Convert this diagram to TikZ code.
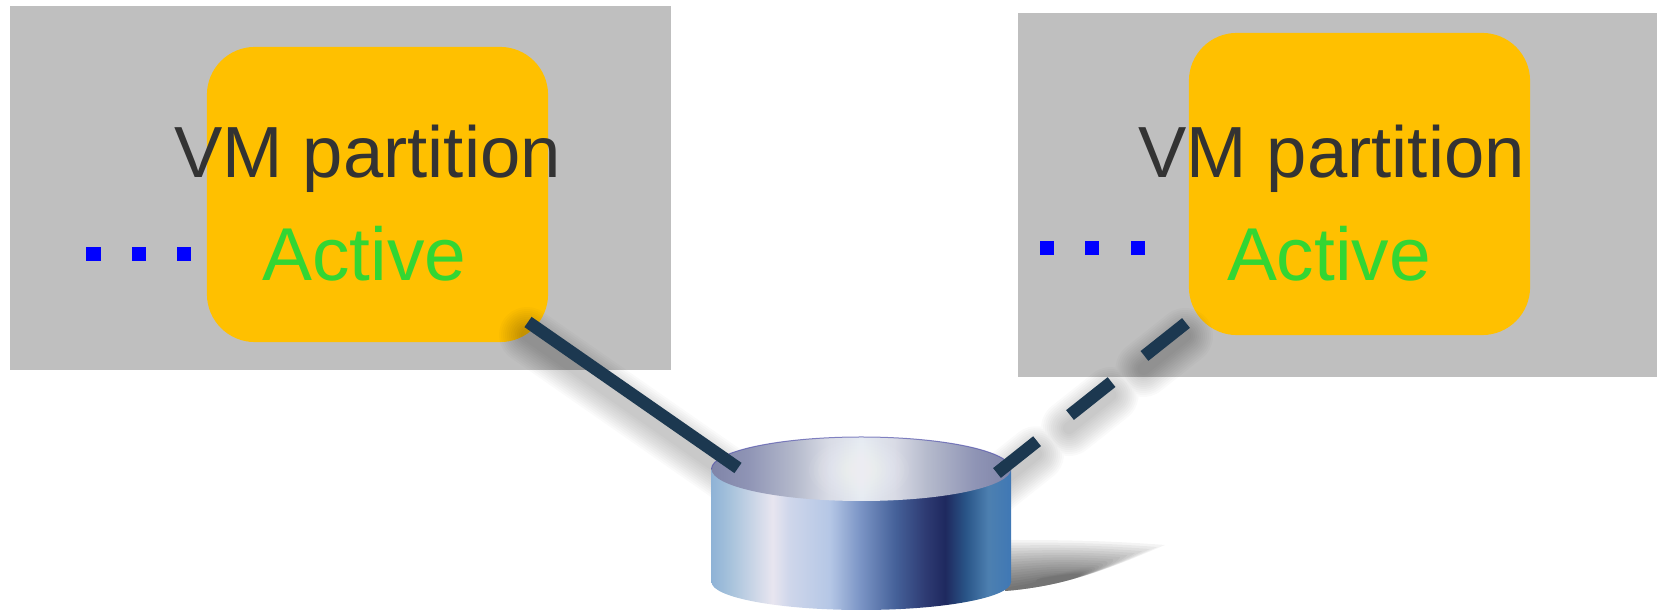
\documentclass[tikz,border=0pt]{standalone}
\usepackage{fontspec}
\setmainfont{Liberation Sans}
\usepackage{xcolor}
\usetikzlibrary{calc}
\definecolor{vmgray}{HTML}{BFBFBF}
\definecolor{vmgold}{HTML}{FFC000}
\definecolor{vmtext}{HTML}{333333}
\definecolor{vmgreen}{HTML}{33D633}
\definecolor{vmblue}{HTML}{0000FF}
\definecolor{vmline}{HTML}{1C3850}
\pgfdeclarehorizontalshading{diskside}{100bp}{
  rgb(0bp)=(.56,.70,.84); rgb(25bp)=(.56,.70,.84); rgb(28bp)=(.65,.76,.86); rgb(35.2bp)=(.91,.90,.94);
  rgb(38bp)=(.81,.84,.92); rgb(44.7bp)=(.71,.78,.90); rgb(49.6bp)=(.49,.59,.78);
  rgb(55.7bp)=(.27,.38,.60); rgb(60.7bp)=(.18,.23,.45); rgb(64bp)=(.12,.16,.37);
  rgb(67.4bp)=(.16,.33,.53); rgb(71.2bp)=(.30,.50,.69); rgb(75bp)=(.25,.47,.71); rgb(100bp)=(.25,.47,.71)}
\pgfdeclarehorizontalshading{disktop}{100bp}{
  rgb(0bp)=(.50,.52,.66); rgb(25bp)=(.50,.52,.66); rgb(31bp)=(.56,.58,.71); rgb(39bp)=(.71,.73,.80);
  rgb(44.5bp)=(.85,.86,.90); rgb(50bp)=(.90,.92,.95); rgb(55.5bp)=(.85,.86,.90);
  rgb(61bp)=(.71,.73,.80); rgb(69bp)=(.56,.58,.71); rgb(75bp)=(.50,.52,.66); rgb(100bp)=(.50,.52,.66)}
\tikzset{
  hostbox/.style={fill=vmgray, inner sep=0pt, minimum height=3.64cm},
  partbox/.style={fill=vmgold, rounded corners=0.48cm, inner sep=0pt, minimum width=3.41cm},
  vmlabel/.style={anchor=base, inner sep=0pt, text=vmtext, font=\fontsize{20.6}{25}\selectfont},
  statelabel/.style={anchor=base, inner sep=0pt, text=vmgreen, font=\fontsize{21.3}{25}\selectfont},
  dotmark/.style={fill=vmblue, inner sep=0pt, minimum size=0.14cm},
  tapline/.style={vmline, line width=0.125cm},
  tapdash/.style={dash pattern=on 0.53cm off 0.42cm},
  tapshadow/.style={black, opacity=0.02, line cap=round,
    transform canvas={xshift=-0.01cm, yshift=-0.13cm}}
}
\begin{document}
\begin{tikzpicture}[x=0.01cm, y=-0.01cm]
  \useasboundingbox (0,0) rectangle (1657,610);

  % The two hosts
  \node[hostbox, minimum width=6.61cm] (hostL) at (340.5,188) {};
  \node[hostbox, minimum width=6.39cm] (hostR) at (1337.5,195) {};
  \node[partbox, minimum height=2.95cm] (partL) at (377.5,194.5) {};
  \node[partbox, minimum height=3.02cm] (partR) at (1359.5,184) {};
  \node[vmlabel] (vmL) at (367.5,178) {VM partition};
  \node[vmlabel] (vmR) at (1331.5,178) {VM partition};
  \node[statelabel] (stateL) at (364.5,281) {Active};
  \node[statelabel] (stateR) at (1329,281) {Active};
  \foreach \x [count=\i] in {93.5,139,184}
    \node[dotmark] (dotL\i) at (\x,254) {};
  \foreach \x [count=\i] in {1047,1092,1138}
    \node[dotmark] (dotR\i) at (\x,248) {};

  % Ends of the two links
  \coordinate (tapL) at (528,322);
  \coordinate (tapR) at (1186,323);
  \coordinate (rimL) at (738,468);
  \coordinate (rimR) at (997,473);

  % Soft shadows of the links
  \foreach \w in {0.56,0.52,0.48,0.44,0.40,0.36,0.32,0.28,0.24,0.20,0.16,0.12} {
    \draw[tapshadow, line width=\w cm] (tapL) -- (rimL);
    \draw[tapshadow, line width=\w cm, tapdash] (tapR) -- (rimR);
  }

  % Shadow of the disk on the floor
  \foreach \i in {0,...,17}
    \fill[black, opacity=0.045] (1005,591) .. controls (1070,586) and (1120,564)
      .. ({1165-\i*7.5},{545+\i*2}) .. controls ({1100-\i*4},{540+\i*2.4}) and (1050,{540+\i*2.4})
      .. (1005,{540+\i*2.8}) -- cycle;

  % The disk
  \shade[shading=diskside] (711.5,469) -- (711.5,582)
    arc[start angle=180, end angle=0, x radius=149.75, y radius=28]
    -- (1011,469) -- cycle;
  \shade[shading=disktop] (861.25,469) ellipse [x radius=149.75, y radius=32];
  \foreach \i in {0,...,9}
    \fill[white, opacity=0.05] (859,470) ellipse [x radius={50-\i*4.5}, y radius={30-\i*2.8}];
  \draw[blue!35!gray, opacity=0.7, line width=0.01cm] (711.5,469)
    arc[start angle=180, end angle=360, x radius=149.75, y radius=32];

  % The links
  \draw[tapline] (tapL) -- (rimL);
  \draw[tapline, tapdash] (tapR) -- (rimR);
\end{tikzpicture}
\end{document}
